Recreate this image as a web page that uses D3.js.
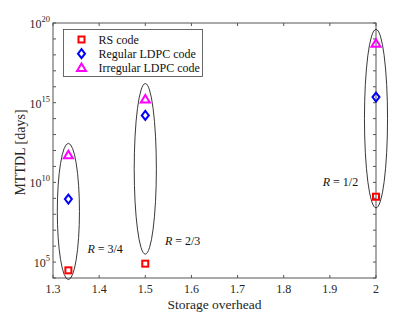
<!DOCTYPE html>
<html><head><meta charset="utf-8">
<script src="https://cdn.jsdelivr.net/npm/d3@7"></script>
<style>body{margin:0;background:#fff}text{font-family:"Liberation Serif","Times New Roman",serif}</style>
</head><body><svg id="c" width="415" height="312"></svg>
<script>
const overhead = [4/3, 1.5, 2];
const rsExp = [4.48, 4.9, 9.1];
const regularExp = [8.95, 14.2, 15.35];
const irregularExp = [11.7, 15.2, 18.7];
const seriesNames = ["RS code", "Regular LDPC code", "Irregular LDPC code"];
const rateLabels = ["R = 3/4", "R = 2/3", "R = 1/2"];
const ellipseTopExp = [12.45, 16.2, 19.6];
const ellipseBottomExp = [3.9, 5.5, 8.4];
const ellipseHalfWidth = [0.024, 0.024, 0.025];
const labelPos = [[1.413, 5.57], [1.581, 6.09], [1.923, 9.77]];
const xTicks = [1.3, 1.4, 1.5, 1.6, 1.7, 1.8, 1.9, 2];
const yLabelExps = [5, 10, 15, 20];

const svg = d3.select("#c");
const L = 53, R = 376, T = 23, B = 278;
const x = d3.scaleLinear().domain([1.3, 2]).range([L, R]);
const y = d3.scaleLog().domain([1e4, 1e20]).range([B, T]);
const ink = "#262626";
const FF = "Liberation Serif";

svg.append("rect").attr("x", L).attr("y", T).attr("width", R - L).attr("height", B - T)
  .attr("fill", "none").attr("stroke", "#555").attr("stroke-width", 1);

const decadeTicks = d3.range(4, 21).map(e => Math.pow(10, e));
const gx = svg.append("g");
xTicks.forEach(t => {
  gx.append("line").attr("x1", x(t)).attr("x2", x(t)).attr("y1", B).attr("y2", B - 3).attr("stroke", "#555");
  gx.append("line").attr("x1", x(t)).attr("x2", x(t)).attr("y1", T).attr("y2", T + 3).attr("stroke", "#555");
  gx.append("text").attr("x", x(t)).attr("y", B + 14.5).attr("text-anchor", "middle").attr("font-family", FF)
    .attr("font-size", 12).attr("fill", ink).text(d3.format("")(t));
});
decadeTicks.forEach(v => {
  svg.append("line").attr("x1", L).attr("x2", L + 3).attr("y1", y(v)).attr("y2", y(v)).attr("stroke", "#555");
  svg.append("line").attr("x1", R).attr("x2", R - 3).attr("y1", y(v)).attr("y2", y(v)).attr("stroke", "#555");
});
yLabelExps.forEach(e => {
  const t = svg.append("text").attr("x", L - 3).attr("y", y(Math.pow(10, e)) + 5).attr("font-family", FF)
    .attr("text-anchor", "end").attr("font-size", 12).attr("fill", ink);
  t.append("tspan").text("10");
  t.append("tspan").attr("dy", -6).attr("font-size", 8.5).text(e);
});

svg.append("text").attr("x", (L + R) / 2).attr("y", 309).attr("text-anchor", "middle").attr("font-family", FF)
  .attr("font-size", 13.5).attr("fill", ink).text("Storage overhead");
svg.append("text").attr("transform", `translate(25,${(T + B) / 2 + 2}) rotate(-90)`).attr("font-family", FF)
  .attr("text-anchor", "middle").attr("font-size", 14).attr("fill", ink).text("MTTDL [days]");

overhead.forEach((o, i) => {
  const yt = y(Math.pow(10, ellipseTopExp[i])), yb = y(Math.pow(10, ellipseBottomExp[i]));
  const rx = x(o + ellipseHalfWidth[i]) - x(o);
  svg.append("ellipse").attr("cx", x(o)).attr("cy", (yt + yb) / 2).attr("rx", rx).attr("ry", (yb - yt) / 2)
    .attr("fill", "none").attr("stroke", "#222").attr("stroke-width", 0.9);
  const lp = labelPos[i];
  const tx = svg.append("text").attr("x", x(lp[0])).attr("y", y(Math.pow(10, lp[1]))).attr("font-family", FF)
    .attr("text-anchor", "middle").attr("font-size", 12).attr("fill", "#111");
  const parts = rateLabels[i].split(" ");
  tx.append("tspan").attr("font-style", "italic").text(parts[0]);
  tx.append("tspan").text(" " + parts.slice(1).join(" "));
});

function square(g, cx, cy) {
  g.append("rect").attr("x", cx - 3).attr("y", cy - 3).attr("width", 6).attr("height", 6)
    .attr("fill", "none").attr("stroke", "#ff0000").attr("stroke-width", 2);
}
function diamond(g, cx, cy) {
  g.append("path").attr("d", `M${cx},${cy - 4.5}L${cx + 3.5},${cy}L${cx},${cy + 4.5}L${cx - 3.5},${cy}Z`)
    .attr("fill", "none").attr("stroke", "#0000ff").attr("stroke-width", 2);
}
function triangle(g, cx, cy) {
  g.append("path").attr("d", `M${cx},${cy - 4.5}L${cx + 4.5},${cy + 3}L${cx - 4.5},${cy + 3}Z`)
    .attr("fill", "none").attr("stroke", "#ff00ff").attr("stroke-width", 2);
}
const markers = [square, diamond, triangle];
const series = [rsExp, regularExp, irregularExp];
const gm = svg.append("g");
series.forEach((s, k) => s.forEach((e, i) => markers[k](gm, x(overhead[i]), y(Math.pow(10, e)))));

const lg = svg.append("g");
lg.append("rect").attr("x", 63.5).attr("y", 29.5).attr("width", 139).attr("height", 47)
  .attr("fill", "#fff").attr("stroke", "#444").attr("stroke-width", 0.8);
seriesNames.forEach((n, k) => {
  const cy = 39.5 + k * 14.2;
  markers[k](lg, 81.5, cy);
  lg.append("text").attr("x", 98.5).attr("y", cy + 4).attr("font-family", FF).attr("font-size", 12).attr("fill", "#111").text(n);
});
</script></body></html>
